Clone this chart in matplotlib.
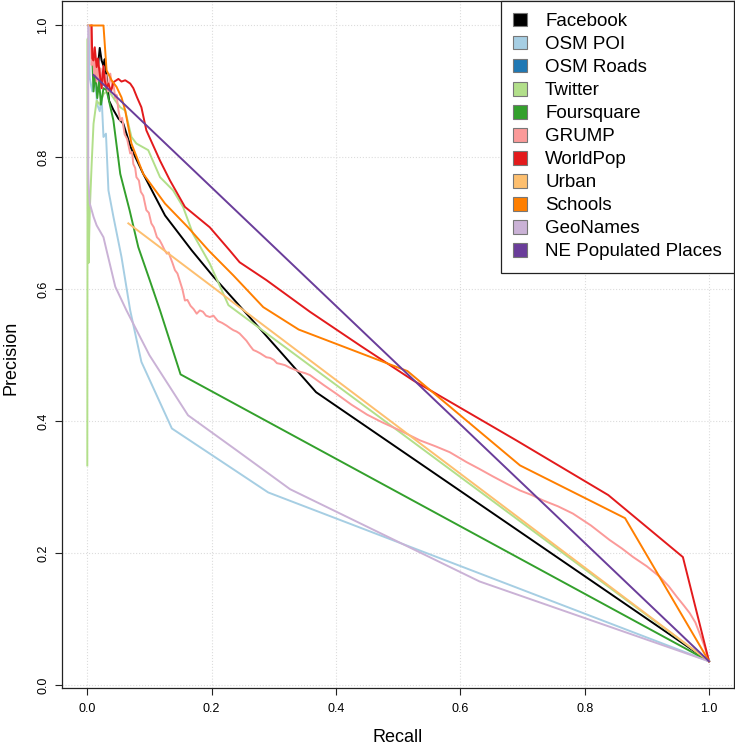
import matplotlib
matplotlib.use('Agg')
import matplotlib.pyplot as plt
from matplotlib.patches import Patch

plt.rcParams['font.family'] = ['Liberation Sans', 'DejaVu Sans']

# series names and colours (legend order)
names = ['Facebook', 'OSM POI', 'OSM Roads', 'Twitter', 'Foursquare', 'GRUMP',
         'WorldPop', 'Urban', 'Schools', 'GeoNames', 'NE Populated Places']
colors = ['#000000', '#A6CEE3', '#1F78B4', '#B2DF8A', '#33A02C', '#FB9A99',
          '#E31A1C', '#FDBF6F', '#FF7F00', '#CAB2D6', '#6A3D9A']

# recall / precision
fb_r = [0.017, 0.018, 0.020, 0.023, 0.026, 0.028, 0.031, 0.035, 0.042, 0.050, 0.058, 0.070,
        0.090, 0.125, 0.168, 0.203, 0.260, 0.310, 0.368, 1.0]
fb_p = [0.930, 0.947, 0.966, 0.947, 0.939, 0.949, 0.922, 0.886, 0.872, 0.859, 0.851, 0.815,
        0.775, 0.712, 0.659, 0.619, 0.559, 0.506, 0.444, 0.036]

poi_r = [0.002, 0.004, 0.008, 0.012, 0.016, 0.020, 0.023, 0.026, 0.030, 0.034, 0.042, 0.055,
         0.069, 0.087, 0.136, 0.291, 1.0]
poi_p = [1.000, 0.920, 0.900, 0.922, 0.880, 0.870, 0.891, 0.831, 0.836, 0.750, 0.710, 0.649,
         0.568, 0.490, 0.389, 0.292, 0.036]

roads_r = []
roads_p = []

tw_r = [0.0, 0.0003, 0.0006, 0.001, 0.002, 0.004, 0.007, 0.010, 0.015, 0.020, 0.026, 0.034,
        0.040, 0.045, 0.053, 0.061, 0.071, 0.079, 0.098, 0.117, 0.138, 0.154, 0.170, 0.197,
        0.227, 1.0]
tw_p = [0.333, 0.700, 0.980, 0.720, 0.640, 0.720, 0.790, 0.851, 0.886, 0.880, 0.896, 0.902,
        0.893, 0.886, 0.876, 0.871, 0.831, 0.821, 0.811, 0.770, 0.750, 0.725, 0.684, 0.639,
        0.576, 0.036]

fsq_r = [0.008, 0.010, 0.013, 0.016, 0.019, 0.022, 0.026, 0.031, 0.042, 0.053, 0.068, 0.082,
         0.100, 0.117, 0.150, 1.0]
fsq_p = [0.950, 0.900, 0.930, 0.890, 0.915, 0.880, 0.905, 0.902, 0.856, 0.775, 0.720, 0.664,
         0.615, 0.568, 0.471, 0.036]

grump_r = [0.005, 0.007, 0.009, 0.011, 0.013, 0.015, 0.017, 0.019, 0.021, 0.023, 0.025, 0.027,
           0.030, 0.033, 0.037, 0.040, 0.042, 0.045, 0.047, 0.050, 0.053, 0.056, 0.060, 0.064,
           0.069, 0.072, 0.074, 0.077, 0.079, 0.083, 0.086, 0.090, 0.095, 0.099, 0.103, 0.107,
           0.112, 0.116, 0.120, 0.124, 0.128, 0.131, 0.133, 0.137, 0.141, 0.145, 0.149, 0.153,
           0.157, 0.161, 0.166, 0.171, 0.176, 0.181, 0.186, 0.191, 0.197, 0.203, 0.210, 0.217,
           0.224, 0.230, 0.235, 0.240, 0.245, 0.250, 0.256, 0.262, 0.267, 0.272, 0.278, 0.283,
           0.288, 0.294, 0.300, 0.305, 0.310, 0.318, 0.326, 0.334, 0.342, 0.350, 0.358, 0.380,
           0.400, 0.425, 0.450, 0.475, 0.503, 0.520, 0.535, 0.560, 0.583, 0.610, 0.630, 0.653,
           0.675, 0.696, 0.715, 0.733, 0.757, 0.781, 0.810, 0.840, 0.860, 0.878, 0.900, 0.921,
           0.935, 0.948, 0.960, 0.969, 0.978, 0.985, 0.993, 1.0]
grump_p = [1.000, 0.940, 0.965, 0.925, 0.950, 0.915, 0.945, 0.920, 0.935, 0.905, 0.930, 0.910,
           0.925, 0.900, 0.927, 0.905, 0.912, 0.890, 0.895, 0.872, 0.856, 0.860, 0.835, 0.828,
           0.806, 0.808, 0.790, 0.784, 0.770, 0.765, 0.748, 0.742, 0.720, 0.716, 0.700, 0.694,
           0.679, 0.675, 0.668, 0.660, 0.654, 0.656, 0.650, 0.640, 0.629, 0.624, 0.612, 0.600,
           0.583, 0.584, 0.575, 0.570, 0.563, 0.568, 0.566, 0.560, 0.558, 0.560, 0.552, 0.549,
           0.545, 0.541, 0.538, 0.536, 0.533, 0.528, 0.522, 0.514, 0.508, 0.506, 0.503, 0.500,
           0.497, 0.496, 0.493, 0.488, 0.487, 0.485, 0.481, 0.478, 0.475, 0.473, 0.470, 0.455,
           0.442, 0.425, 0.410, 0.398, 0.386, 0.378, 0.371, 0.362, 0.353, 0.338, 0.328, 0.316,
           0.305, 0.295, 0.288, 0.280, 0.271, 0.260, 0.242, 0.220, 0.207, 0.194, 0.180, 0.164,
           0.150, 0.134, 0.120, 0.109, 0.095, 0.078, 0.058, 0.036]

wp_r = [0.007, 0.008, 0.010, 0.012, 0.015, 0.017, 0.020, 0.023, 0.026, 0.028, 0.031, 0.034,
        0.038, 0.042, 0.050, 0.055, 0.061, 0.069, 0.074, 0.080, 0.087, 0.095, 0.117, 0.133,
        0.157, 0.197, 0.229, 0.245, 0.288, 0.358, 0.440, 0.524, 0.690, 0.838, 0.958, 1.0]
wp_p = [1.000, 0.950, 0.947, 0.967, 0.937, 0.950, 0.927, 0.905, 0.939, 0.917, 0.905, 0.912,
        0.900, 0.914, 0.919, 0.915, 0.917, 0.912, 0.905, 0.891, 0.876, 0.841, 0.795, 0.765,
        0.725, 0.694, 0.659, 0.641, 0.614, 0.566, 0.514, 0.462, 0.371, 0.288, 0.194, 0.036]

urban_r = [0.066, 1.0]
urban_p = [0.700, 0.036]

sch_r = [0.001, 0.026, 0.031, 0.039, 0.047, 0.055, 0.061, 0.071, 0.090, 0.125, 0.162, 0.195,
         0.235, 0.283, 0.340, 0.515, 0.696, 0.865, 1.0]
sch_p = [1.000, 1.000, 0.932, 0.917, 0.907, 0.891, 0.871, 0.821, 0.775, 0.730, 0.694, 0.659,
         0.621, 0.573, 0.539, 0.476, 0.333, 0.253, 0.036]

geo_r = [0.0015, 0.0015, 0.002, 0.004, 0.010, 0.015, 0.026, 0.031, 0.045, 0.063, 0.100, 0.162,
         0.240, 0.326, 0.631, 1.0]
geo_p = [1.000, 0.780, 0.760, 0.730, 0.710, 0.697, 0.679, 0.659, 0.604, 0.568, 0.500, 0.409,
         0.356, 0.297, 0.157, 0.036]

ne_r = [0.010, 1.0]
ne_p = [0.925, 0.036]

recalls = [fb_r, poi_r, roads_r, tw_r, fsq_r, grump_r, wp_r, urban_r, sch_r, geo_r, ne_r]
precisions = [fb_p, poi_p, roads_p, tw_p, fsq_p, grump_p, wp_p, urban_p, sch_p, geo_p, ne_p]

ticks = [0.0, 0.2, 0.4, 0.6, 0.8, 1.0]
tick_labels = ['0.0', '0.2', '0.4', '0.6', '0.8', '1.0']

fig = plt.figure(figsize=(7.35, 7.46), dpi=100)
ax = fig.add_axes([62 / 735, 58 / 746, 672 / 735, 687.5 / 746])

for r, p, c in zip(recalls, precisions, colors):
    ax.plot(r, p, color=c, lw=1.4, solid_joinstyle='round')

ax.set_xlim(-0.0407, 1.0402)
ax.set_ylim(-0.0045, 1.0379)
ax.set_xticks(ticks)
ax.set_xticklabels(tick_labels)
ax.set_yticks(ticks)
ax.set_yticklabels(tick_labels, rotation=90, va='center')
ax.grid(True, color='#dcdcdc', linestyle=':', lw=0.8)
ax.set_axisbelow(True)
ax.tick_params(axis='x', direction='out', length=5, width=0.8, labelsize=9, pad=6,
               color='#222222')
ax.tick_params(axis='y', direction='out', length=5, width=0.8, labelsize=9, pad=4,
               color='#222222')
for s in ax.spines.values():
    s.set_color('#222222')
    s.set_linewidth(0.9)

ax.set_xlabel('Recall', fontsize=13)
ax.xaxis.label.set_va('center')
ax.xaxis.set_label_coords(0.5, (8 - 58) / 688)
ax.set_ylabel('Precision', fontsize=13)
ax.yaxis.label.set_va('center')
ax.yaxis.set_label_coords((11 - 62) / 672, 0.48)

handles = [Patch(facecolor=c, edgecolor='#777777', lw=0.8) for c in colors]
leg = ax.legend(handles, names, loc='upper right', bbox_to_anchor=(1, 1), borderaxespad=0,
                fontsize=13.5, fancybox=False, framealpha=1, edgecolor='#222222',
                handlelength=0.75, handleheight=0.75, handletextpad=0.95,
                labelspacing=0.3, borderpad=0.65)
leg.get_frame().set_linewidth(0.9)

fig.savefig('out.png', dpi=100)
